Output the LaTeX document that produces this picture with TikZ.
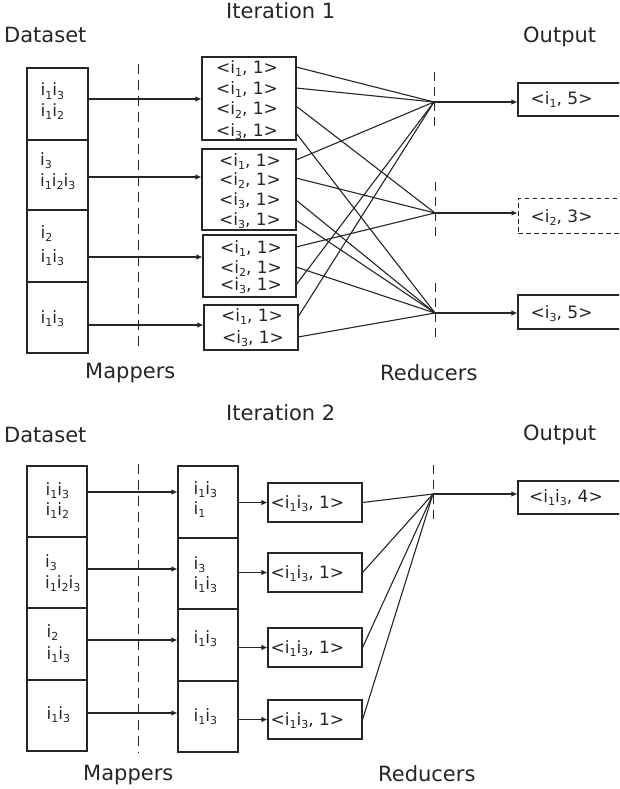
\documentclass[tikz,border=0pt]{standalone}
\usepackage{fontspec}
\setmainfont{DejaVu Sans}
\usetikzlibrary{arrows.meta}
\definecolor{ink}{HTML}{262626}
\newcommand\sbx[1]{\raisebox{-3pt}{\fontsize{11}{11}\selectfont #1}}
\begin{document}
\begin{tikzpicture}[x=1pt,y=-1pt,color=ink,
  lbl/.style={font=\fontsize{21}{25}\selectfont, inner sep=0, anchor=base west},
  txt/.style={font=\fontsize{17}{20}\selectfont, inner sep=0, anchor=base west},
  ctxt/.style={font=\fontsize{17}{20}\selectfont, inner sep=0, anchor=base},
  cell/.style={draw, line width=1.1pt, inner sep=0},
  sep/.style={dash pattern=on 10pt off 6pt, line width=1pt},
  wire/.style={line width=1.1pt},
  arr/.style={line width=1.1pt, -{Latex[length=6pt,width=5.5pt]}},
]
\clip (0,0) rectangle (619,789);
\fill[white] (0,0) rectangle (619,789);

% ================= Iteration 1 =================
\node[lbl] (it1) at (226,19) {Iteration 1};
\node[lbl] (ds1) at (4,43) {Dataset};
\node[lbl] (out1) at (523,43) {Output};
\node[lbl] (map1) at (85,378) {Mappers};
\node[lbl] (red1) at (380,380) {Reducers};

% dataset cells
\node[cell, minimum width=61, minimum height=72] (d1) at (57.5,104) {};
\node[cell, minimum width=61, minimum height=70] (d2) at (57.5,175) {};
\node[cell, minimum width=61, minimum height=72] (d3) at (57.5,246) {};
\node[cell, minimum width=61, minimum height=71] (d4) at (57.5,317.5) {};
\node[txt] (t11) at (40.5,96) {i\sbx{1}i\sbx{3}};
\node[txt] (t12) at (40.5,117) {i\sbx{1}i\sbx{2}};
\node[txt] (t21) at (40,165) {i\sbx{3}};
\node[txt] (t22) at (40,186) {i\sbx{1}i\sbx{2}i\sbx{3}};
\node[txt] (t31) at (40.5,238) {i\sbx{2}};
\node[txt] (t32) at (40.5,262) {i\sbx{1}i\sbx{3}};
\node[txt] (t41) at (40.5,323) {i\sbx{1}i\sbx{3}};

% mapper separator
\node[inner sep=0] (sepa) at (138,63) {};
\node[inner sep=0] (sepb) at (138,348) {};
\draw[sep] (sepa) -- (sepb);

% mapper output boxes
\node[cell, minimum width=94, minimum height=83] (m1) at (249,98.5) {};
\node[cell, minimum width=94, minimum height=81] (m2) at (249,189.5) {};
\node[cell, minimum width=93, minimum height=62] (m3) at (249.5,266) {};
\node[cell, minimum width=94, minimum height=45] (m4) at (251,327.5) {};
\node[ctxt] (m1a) at (247,74) {<i\sbx{1}, 1>};
\node[ctxt] (m1b) at (247,95) {<i\sbx{1}, 1>};
\node[ctxt] (m1c) at (247,115) {<i\sbx{2}, 1>};
\node[ctxt] (m1d) at (247,136) {<i\sbx{3}, 1>};
\node[ctxt] (m2a) at (250,166) {<i\sbx{1}, 1>};
\node[ctxt] (m2b) at (250,185) {<i\sbx{2}, 1>};
\node[ctxt] (m2c) at (250,205) {<i\sbx{3}, 1>};
\node[ctxt] (m2d) at (250,225) {<i\sbx{3}, 1>};
\node[ctxt] (m3a) at (251,253) {<i\sbx{1}, 1>};
\node[ctxt] (m3b) at (251,273) {<i\sbx{2}, 1>};
\node[ctxt] (m3c) at (251,290) {<i\sbx{3}, 1>};
\node[ctxt] (m4a) at (252,321) {<i\sbx{1}, 1>};
\node[ctxt] (m4b) at (253,343) {<i\sbx{3}, 1>};

% arrows dataset -> mappers
\coordinate (s1) at (88,99);
\coordinate (s2) at (88,177);
\coordinate (s3) at (88,257);
\coordinate (s4) at (88,325);
\draw[arr] (s1) -- (s1 -| m1.west);
\draw[arr] (s2) -- (s2 -| m2.west);
\draw[arr] (s3) -- (s3 -| m3.west);
\draw[arr] (s4) -- (s4 -| m4.west);

% reducers
\coordinate (r1) at (434,102);
\coordinate (r2) at (435,213);
\coordinate (r3) at (435,313);
\coordinate (r1a) at (434,72);  \coordinate (r1b) at (434,132);
\coordinate (r2a) at (435,182); \coordinate (r2b) at (435,240);
\coordinate (r3a) at (435,283); \coordinate (r3b) at (435,342);
\draw[sep, dash pattern=on 9pt off 6pt] (r1a) -- (r1b);
\draw[sep, dash pattern=on 9pt off 6pt] (r2a) -- (r2b);
\draw[sep, dash pattern=on 9pt off 6pt] (r3a) -- (r3b);

% shuffle wires
\coordinate (p1a) at (296,67);  \coordinate (p1b) at (296,88);
\coordinate (p1c) at (296,106); \coordinate (p1d) at (296,133);
\coordinate (p2a) at (296,160); \coordinate (p2b) at (296,178);
\coordinate (p2c) at (296,200); \coordinate (p2d) at (296,220);
\coordinate (p3a) at (296,247); \coordinate (p3b) at (296,267);
\coordinate (p3c) at (296,285);
\coordinate (p4a) at (298,317); \coordinate (p4b) at (298,337);
\draw[wire] (p1a) -- (r1);
\draw[wire] (p1b) -- (r1);
\draw[wire] (p1c) -- (r2);
\draw[wire] (p1d) -- (r3);
\draw[wire] (p2a) -- (r1);
\draw[wire] (p2b) -- (r2);
\draw[wire] (p2c) -- (r3);
\draw[wire] (p2d) -- (r3);
\draw[wire] (p3a) -- (r2);
\draw[wire] (p3b) -- (r3);
\draw[wire] (p3c) -- (r1);
\draw[wire] (p4a) -- (r1);
\draw[wire] (p4b) -- (r3);

% outputs
\node[cell, minimum width=132, minimum height=33] (o1) at (584,99.5) {};
\node[cell, dash pattern=on 4.5pt off 3.5pt, line width=1pt, minimum width=132, minimum height=35] (o2) at (584,215.5) {};
\node[cell, minimum width=132, minimum height=34] (o3) at (584,312) {};
\node[txt] (o1t) at (530.5,105) {<i\sbx{1}, 5>};
\node[txt] (o2t) at (530.5,222) {<i\sbx{2}, 3>};
\node[txt] (o3t) at (530.5,318) {<i\sbx{3}, 5>};
\draw[arr] (r1) -- (r1 -| o1.west);
\draw[arr] (r2) -- (r2 -| o2.west);
\draw[arr] (r3) -- (r3 -| o3.west);

% ================= Iteration 2 =================
\node[lbl] (it2) at (226,420) {Iteration 2};
\node[lbl] (ds2) at (4,442) {Dataset};
\node[lbl] (out2) at (523,440) {Output};
\node[lbl] (map2) at (83,780) {Mappers};
\node[lbl] (red2) at (378,781) {Reducers};

\node[cell, minimum width=60, minimum height=71] (e1) at (57,501.5) {};
\node[cell, minimum width=60, minimum height=71] (e2) at (57,572.5) {};
\node[cell, minimum width=60, minimum height=72] (e3) at (57,644) {};
\node[cell, minimum width=60, minimum height=71] (e4) at (57,715.5) {};
\node[txt] (u11) at (45.5,495) {i\sbx{1}i\sbx{3}};
\node[txt] (u12) at (45.5,515) {i\sbx{1}i\sbx{2}};
\node[txt] (u21) at (45,567) {i\sbx{3}};
\node[txt] (u22) at (45,588) {i\sbx{1}i\sbx{2}i\sbx{3}};
\node[txt] (u31) at (46.5,637) {i\sbx{2}};
\node[txt] (u32) at (46.5,659) {i\sbx{1}i\sbx{3}};
\node[txt] (u41) at (46.5,719) {i\sbx{1}i\sbx{3}};

\node[inner sep=0] (sepc) at (138,463) {};
\node[inner sep=0] (sepd) at (138,753) {};
\draw[sep] (sepc) -- (sepd);

\node[cell, minimum width=60, minimum height=72] (c1) at (208,502) {};
\node[cell, minimum width=60, minimum height=71] (c2) at (208,573.5) {};
\node[cell, minimum width=60, minimum height=72] (c3) at (208,645) {};
\node[cell, minimum width=60, minimum height=71] (c4) at (208,716.5) {};
\node[txt] (v11) at (193.5,494) {i\sbx{1}i\sbx{3}};
\node[txt] (v12) at (193.5,514) {i\sbx{1}};
\node[txt] (v21) at (193.5,569) {i\sbx{3}};
\node[txt] (v22) at (193.5,589) {i\sbx{1}i\sbx{3}};
\node[txt] (v31) at (193.5,643) {i\sbx{1}i\sbx{3}};
\node[txt] (v41) at (193.5,721) {i\sbx{1}i\sbx{3}};

\coordinate (q1) at (87,492);
\coordinate (q2) at (87,569);
\coordinate (q3) at (87,640);
\coordinate (q4) at (87,713);
\draw[arr] (q1) -- (q1 -| c1.west);
\draw[arr] (q2) -- (q2 -| c2.west);
\draw[arr] (q3) -- (q3 -| c3.west);
\draw[arr] (q4) -- (q4 -| c4.west);

\node[cell, minimum width=94, minimum height=39] (b1) at (315,502.5) {};
\node[cell, minimum width=94, minimum height=39] (b2) at (315,572.5) {};
\node[cell, minimum width=94, minimum height=39] (b3) at (315,647.5) {};
\node[cell, minimum width=94, minimum height=39] (b4) at (315,719.5) {};
\node[txt] (b1t) at (270.5,508) {<i\sbx{1}i\sbx{3}, 1>};
\node[txt] (b2t) at (270.5,578) {<i\sbx{1}i\sbx{3}, 1>};
\node[txt] (b3t) at (270.5,653) {<i\sbx{1}i\sbx{3}, 1>};
\node[txt] (b4t) at (270.5,725) {<i\sbx{1}i\sbx{3}, 1>};
\draw[arr] (b1.west -| c1.east) -- (b1.west);
\draw[arr] (b2.west -| c2.east) -- (b2.west);
\draw[arr] (b3.west -| c3.east) -- (b3.west);
\draw[arr] (b4.west -| c4.east) -- (b4.west);

\coordinate (rr) at (433,494);
\coordinate (rra) at (433,465); \coordinate (rrb) at (433,523);
\draw[sep, dash pattern=on 9pt off 6pt] (rra) -- (rrb);
\draw[wire] (b1.east) -- (rr);
\draw[wire] (b2.east) -- (rr);
\draw[wire] (b3.east) -- (rr);
\draw[wire] (b4.east) -- (rr);

\node[cell, minimum width=132, minimum height=33] (oo) at (584,497.5) {};
\node[txt] (oot) at (529,502) {<i\sbx{1}i\sbx{3}, 4>};
\draw[arr] (rr) -- (rr -| oo.west);
\end{tikzpicture}
\end{document}
